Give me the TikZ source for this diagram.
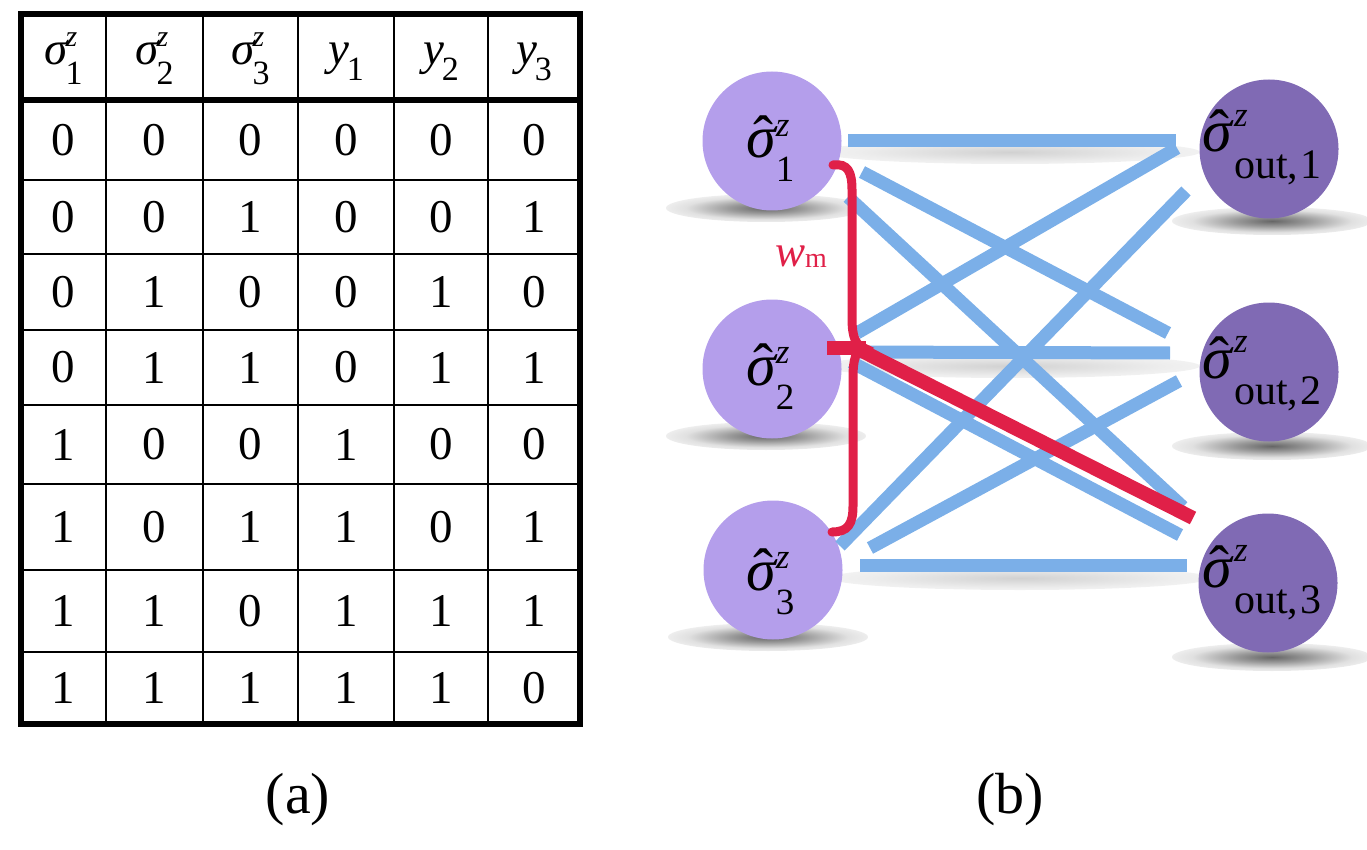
\documentclass[tikz,border=0pt]{standalone}
\usepackage{fontspec}
\setmainfont{Liberation Serif}
\newcommand\fs[1]{\fontsize{#1}{#1}\selectfont}
\newcommand\hatsig{\rlap{\kern0.12em\raisebox{0.0em}{ˆ}}{\itshape σ}}
\newcommand\hsig[1]{{\itshape σ}\kern-0.04em\rlap{\raisebox{0.4em}{\fs{30}\itshape z}}\raisebox{-0.42em}{\fs{34}#1}}
\newcommand\hy[1]{{\itshape y}\kern-0.04em\raisebox{-0.32em}{\fs{34}#1}}
\newcommand\insig[1]{\hatsig\kern0.0em\rlap{\raisebox{0.36em}{\fs{35}\itshape z}}\raisebox{-0.4em}{\fs{37}#1}}
\newcommand\outsig[1]{\hatsig\kern0.04em\rlap{\raisebox{0.43em}{\fs{35}\itshape z}}\raisebox{-0.44em}{\fs{42}out,\kern0.06em#1}}
\definecolor{lav}{HTML}{B49EEB}
\definecolor{plum}{HTML}{806AB4}
\definecolor{wireblue}{HTML}{7BAFE8}
\definecolor{wred}{HTML}{E02048}
\pgfdeclareradialshading{softshadow}{\pgfpoint{0bp}{0bp}}{color(0bp)=(black!60); color(9bp)=(black!40); color(20bp)=(black!12); color(32bp)=(white); color(50bp)=(white)}
\pgfdeclareradialshading{lineshadow}{\pgfpoint{0bp}{0bp}}{color(0bp)=(black!18); color(20bp)=(black!7); color(40bp)=(white); color(50bp)=(white)}
\tikzset{
  thinrule/.style={line width=2pt},
  thickrule/.style={line width=5.5pt},
  cell/.style={inner sep=0pt, font={\fs{47}}},
  hdr/.style={inner sep=0pt, anchor=base, font={\fs{47}}},
  incirc/.style={circle, fill=lav, minimum size=139pt, inner sep=0pt},
  outcirc/.style={circle, fill=plum, minimum size=139pt, inner sep=0pt},
  nlabel/.style={anchor=base west, inner sep=0pt, font={\fs{60}}},
  wire/.style={line width=13pt, draw=wireblue},
  redline/.style={line width=14pt, draw=wred},
  bracepath/.style={line width=9pt, draw=wred, line cap=round},
  caption/.style={font={\fs{58}}, inner sep=0pt}
}
\begin{document}
\begin{tikzpicture}[x=1pt,y=-1pt]
\useasboundingbox (0,0) rectangle (1367,850);
% ---------------- table (a)
\foreach \x in {106,203,298,394,488} \draw[thinrule] (\x,14) -- (\x,724);
\foreach \y in {180,254,330,405,484,570,652} \draw[thinrule] (21,\y) -- (580,\y);
\draw[thickrule] (21,100) -- (580,100);
\draw[thickrule] (21,14) rectangle (580,724);
\node[hdr] (h1) at (63.5,65) {\hsig{1}};
\node[hdr] (h2) at (154.5,65) {\hsig{2}};
\node[hdr] (h3) at (250.5,65) {\hsig{3}};
\node[hdr] (h4) at (346,65) {\hy{1}};
\node[hdr] (h5) at (441,65) {\hy{2}};
\node[hdr] (h6) at (534,65) {\hy{3}};
\def\colxs{{63.5,154.5,250.5,346,441,534}}
\def\rowys{{140,217,292,367.5,444.5,527,611,688}}
\foreach \row [count=\r from 0] in {{0,0,0,0,0,0},{0,0,1,0,0,1},{0,1,0,0,1,0},{0,1,1,0,1,1},{1,0,0,1,0,0},{1,0,1,1,0,1},{1,1,0,1,1,1},{1,1,1,1,1,0}}{
  \foreach \v [count=\c from 0] in \row {
    \pgfmathsetmacro\cx{\colxs[\c]}
    \pgfmathsetmacro\cy{\rowys[\r]}
    \node[cell] (t\r\c) at (\cx,\cy) {\v};
  }
}
\node[caption] (capa) at (298,800) {(a)};
% ---------------- network (b)
\shade[shading=softshadow] (766,208) ellipse [x radius=100pt, y radius=14pt];
\shade[shading=softshadow] (766,436) ellipse [x radius=100pt, y radius=14pt];
\shade[shading=softshadow] (768,637) ellipse [x radius=100pt, y radius=14pt];
\shade[shading=softshadow] (1272,221) ellipse [x radius=100pt, y radius=14pt];
\shade[shading=softshadow] (1272,446) ellipse [x radius=100pt, y radius=14pt];
\shade[shading=softshadow] (1272,657) ellipse [x radius=100pt, y radius=14pt];
\shade[shading=lineshadow] (1010,152) ellipse [x radius=190pt, y radius=12pt];
\shade[shading=lineshadow] (1010,366) ellipse [x radius=190pt, y radius=12pt];
\shade[shading=lineshadow] (1020,578) ellipse [x radius=190pt, y radius=12pt];
\node[incirc] (s1) at (772,141) {};
\node[incirc] (s2) at (772,369) {};
\node[incirc] (s3) at (773,570) {};
\node[outcirc] (o1) at (1269,149) {};
\node[outcirc] (o2) at (1269,372) {};
\node[outcirc] (o3) at (1268,583) {};
\node[nlabel] (s1t) at (746,158) {\insig{1}};
\node[nlabel] (s2t) at (746,385) {\insig{2}};
\node[nlabel] (s3t) at (746,590) {\insig{3}};
\node[nlabel] (o1t) at (1202,152) {\outsig{1}};
\node[nlabel] (o2t) at (1202,378) {\outsig{2}};
\node[nlabel] (o3t) at (1202,587) {\outsig{3}};
% wire end points
\coordinate (a1) at (848,141);  \coordinate (b1) at (1176,141);
\coordinate (a2) at (862,172);  \coordinate (b2) at (1168,333);
\coordinate (a3) at (848,197);  \coordinate (b3) at (1183,507);
\coordinate (a4) at (857,333);  \coordinate (b4) at (1177,148);
\coordinate (a5) at (855,352);  \coordinate (b5) at (1170,353);
\coordinate (a6) at (851,362);  \coordinate (b6) at (1180,535);
\coordinate (a7) at (840,546);  \coordinate (b7) at (1186,191);
\coordinate (a8) at (870,548);  \coordinate (b8) at (1179,381);
\coordinate (a9) at (860,565);  \coordinate (b9) at (1187,565);
\foreach \i in {1,...,9} \draw[wire] (a\i) -- (b\i);
% highlighted weight
\coordinate (r0) at (827,348);
\coordinate (r1) at (866,348);
\coordinate (r2) at (858,349);
\coordinate (r3) at (1193,518);
\draw[redline] (r0) -- (r1);
\draw[redline] (r2) -- (r3);
\coordinate (bt) at (833,165);
\coordinate (bb) at (832,532);
\draw[bracepath] (bt) .. controls (848,163) and (852,172) .. (852,190) -- (852,318)
  .. controls (852,338) and (856,345) .. (864,348)
  .. controls (856,351) and (853,358) .. (853,378) -- (853,506)
  .. controls (853,524) and (848,532) .. (bb);
\node[anchor=base west, inner sep=0pt, text=wred] (wm) at (775,266) {{\fs{45}\itshape w}\raisebox{-0.2em}{\fs{28}m}};
\node[caption] (capb) at (1010,800) {(b)};
\end{tikzpicture}
\end{document}
